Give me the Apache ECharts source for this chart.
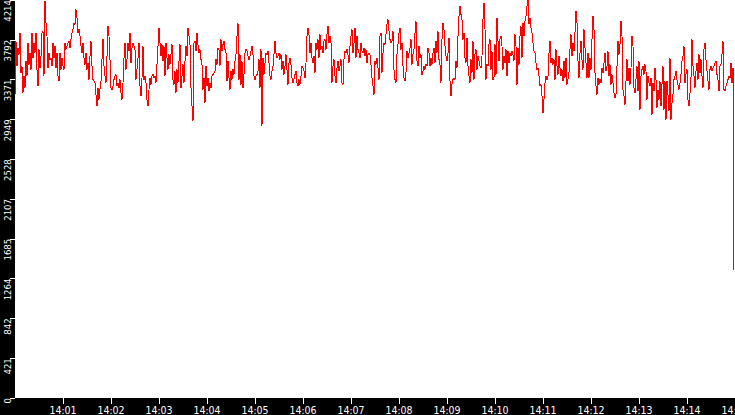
<!DOCTYPE html>
<html>
<head>
<meta charset="utf-8">
<script src="https://cdn.jsdelivr.net/npm/echarts@6/dist/echarts.min.js"></script>
<style>
  html, body { margin: 0; padding: 0; background: #000; }
  #chart { width: 735px; height: 415px; }
  #chart path { shape-rendering: crispEdges; }
</style>
</head>
<body>
<div id="chart"></div>
<script>
// ============================================
//  sampled signal, 14:00 – 14:15, one sample per 1.25 s
// ============================================
const startLabelHour = '14'
const sampleSeconds = 1.25
const spanSeconds = 900

const yTickLabels = ['0', '421', '842', '1264', '1685', '2107', '2528', '2949', '3371', '3792', '4214']
const yMax = 4214
const xTickMinutes = [1, 2, 3, 4, 5, 6, 7, 8, 9, 10, 11, 12, 13, 14, 15]

// 14:00 – 14:03
const values1 = [
  3206, 3778, 3513, 3708, 3637, 3867, 3443, 3513, 3231, 3407, 3284, 3566, 3407, 3761, 3531, 3655,
  3478, 3867, 3602, 3761, 3655, 3867, 3478, 3301, 3690, 3496, 3619, 3867, 3884, 3407, 4202, 3973,
  3831, 3496, 3655, 3584, 3602, 3513, 3761, 3602, 3725, 3496, 3655, 3407, 3354, 3655, 3478, 3602,
  3513, 3478, 3761, 3690, 3725, 3761, 3778, 3708, 3796, 3867, 3902, 3973, 3955, 4114, 4026, 3867,
  3902, 3831, 3725, 3655, 3761, 3602, 3531, 3655, 3478, 3549, 3372, 3619, 3778, 3513, 3372, 3354,
  3337, 3213, 3089, 3284, 3160, 3266, 3354, 3584, 3803, 3513, 3407, 3337, 3619, 3937, 3831, 3584,
  3284, 3266, 3301, 3372, 3407, 3425, 3301, 3337, 3284, 3372, 3231, 3160, 3337, 3602, 3761, 3478,
  3584, 3761, 3672, 3867, 3549, 3708, 3761, 3725
]
const values2 = [
  3690, 3372, 3478, 3602, 3761, 3301, 3195, 3390, 3725, 3372, 3407, 3337, 3160, 3089, 3266, 3390,
  3319, 3407, 3425, 3390, 3407, 3337, 3531, 3725, 3920, 3761, 3619, 3743, 3566, 3725, 3407, 3761,
  3602, 3478, 3637, 3531, 3637, 3743, 3372, 3319, 3460, 3231, 3478, 3337, 3566, 3743, 3284, 3407,
  3531, 3337, 3566, 3725, 3619, 3920, 3831, 3743, 3284, 3089, 2930, 3761, 3778, 3672, 3867, 3743,
  3655, 3690, 3584, 3531, 3266, 3390, 3125, 3513, 3301, 3390, 3248, 3337, 3284, 3407, 3425, 3443,
  3460, 3584, 3531, 3708, 3690, 3513, 3796, 3672, 3743, 3778, 3690, 3655, 3354, 3566, 3390, 3266,
  3460, 3372, 3478, 3425, 3566, 3637, 3831, 3973, 3372, 3637, 3319, 3566, 3284, 3425, 3655, 3690,
  3672, 3619, 3584, 3619, 3672, 3725, 3637, 3407
]
// 14:05 – 14:08
const values3 = [
  3372, 3407, 3425, 3460, 3584, 3284, 3690, 2884, 3602, 3425, 3549, 3655, 3637, 3672, 3549, 3407,
  3372, 3460, 3513, 3637, 3778, 3655, 3602, 3619, 3655, 3584, 3637, 3478, 3566, 3425, 3513, 3637,
  3478, 3319, 3549, 3602, 3531, 3390, 3337, 3372, 3425, 3460, 3337, 3301, 3372, 3319, 3407, 3513,
  3496, 3460, 3390, 3549, 3831, 3920, 3849, 3655, 3761, 3602, 3549, 3619, 3443, 3761, 3690, 3796,
  3602, 3849, 3690, 3725, 3655, 3778, 3796, 3690, 3849, 3937, 3761, 3831, 3761, 3337, 3513, 3584,
  3407, 3337, 3496, 3566, 3460, 3513, 3584, 3337, 3319, 3584, 3672, 3655, 3690, 3637, 3549, 3725,
  3831, 3902, 3655, 3761, 3920, 3602, 3831, 3690, 3655, 3602, 3761, 3672, 3655, 3708, 3619, 3690,
  3549, 3637, 3655, 3637, 3531, 3390, 3301, 3213
]
const values4 = [
  3566, 3531, 3602, 3496, 3372, 3831, 3867, 3443, 3655, 3761, 3743, 3849, 3955, 4008, 3884, 3796,
  3761, 3778, 3884, 3478, 3372, 3337, 3637, 3743, 3867, 3920, 3690, 3761, 3513, 3390, 3354, 3443,
  3672, 3602, 3655, 3708, 3796, 3531, 3637, 3690, 3867, 3990, 3566, 3513, 3725, 3602, 3637, 3425,
  3460, 3513, 3478, 3531, 3513, 3708, 3655, 3513, 3602, 3531, 3655, 3708, 3549, 3778, 3655, 3884,
  3584, 3531, 3337, 3796, 3973, 3902, 3725, 3619, 3566, 3655, 3814, 3354, 3195, 3319, 3372, 3390,
  3372, 3566, 3496, 3831, 4043, 4149, 4061, 4008, 3796, 3867, 3602, 3549, 3814, 3513, 3407, 3337,
  3584, 3443, 3778, 3372, 3637, 3690, 3478, 3619, 3566, 3513, 3496, 3619, 4008, 4185, 3902, 3372,
  3531, 3513, 3743, 3796, 3478, 3672, 3372, 3390
]
// 14:10 – 14:15
const values5 = [
  3743, 3425, 4026, 3778, 3566, 3796, 3831, 3725, 3478, 3619, 3549, 3690, 3407, 3672, 3549, 3655,
  3619, 3672, 3637, 3566, 3849, 3725, 3319, 3708, 3531, 3831, 3937, 3602, 3973, 3831, 3990, 4043,
  4149, 4214, 3955, 4026, 3920, 3867, 3761, 3672, 3655, 3549, 3478, 3496, 3407, 3301, 3319, 3195,
  3019, 3160, 3337, 3407, 3372, 3407, 3655, 3778, 3549, 3602, 3531, 3584, 3372, 3690, 3513, 3425,
  3619, 3496, 3407, 3478, 3354, 3566, 3390, 3602, 3319, 3372, 3443, 3690, 3849, 3619, 3761, 3672,
  3867, 4096, 3973, 3566, 3390, 3655, 3778, 3584, 3478, 3902, 3708, 3549, 3390, 3655, 3390, 3602,
  3478, 3796, 4043, 3902, 3443, 3301, 3213, 3390, 3319, 3372, 3337, 3496, 3443, 3549, 3655, 3460,
  3513, 3672, 3407, 3531, 3319, 3425, 3337, 3231
]
const values6 = [
  3178, 3213, 3513, 3778, 3637, 3743, 3990, 3831, 3266, 3195, 3107, 3354, 3584, 3354, 3496, 3319,
  3496, 3831, 3725, 3284, 3231, 3372, 3513, 3248, 3566, 3054, 3407, 3478, 3513, 3425, 3531, 3460,
  3160, 3407, 3337, 3301, 3390, 3001, 3337, 3248, 3496, 3372, 3072, 3266, 3160, 3354, 3089, 3319,
  3513, 3054, 3354, 2948, 3354, 3213, 3036, 3602, 2948, 3125, 3213, 3372, 3407, 3460, 3372, 3319,
  3266, 3337, 3425, 3566, 3619, 3725, 3337, 3425, 3478, 3160, 3089, 3231, 3390, 3796, 3513, 3407,
  3284, 3460, 3549, 3372, 3637, 3443, 3584, 3407, 3284, 3690, 3761, 3584, 3460, 3354, 3266, 3478,
  3513, 3460, 3496, 3513, 3549, 3566, 3425, 3372, 3248, 3513, 3531, 3637, 3778, 3266, 3248, 3301,
  3337, 3372, 3407, 3390, 3549, 3337, 3496, 1357
]

const values = [].concat(values1, values2, values3, values4, values5, values6)
const points = values.map((v, i) => [i * sampleSeconds, v])

const chart = echarts.init(document.getElementById('chart'), null, { renderer: 'svg' })

chart.setOption({
  animation: false,
  backgroundColor: '#000',
  grid: {
    left: 15, right: 0, top: 0, bottom: 17,
    outerBoundsMode: 'none',
    containLabel: false,
    show: true, backgroundColor: '#fff', borderWidth: 0
  },
  xAxis: {
    type: 'value',
    min: 0,
    max: spanSeconds,
    interval: 60,
    axisLine: { show: false },
    splitLine: { show: false },
    axisTick: {
      length: 6,
      lineStyle: { color: '#fff' },
      customValues: xTickMinutes.map(m => m * 60)
    },
    axisLabel: {
      customValues: xTickMinutes.map(m => m * 60),
      showMaxLabel: true,
      hideOverlap: false,
      margin: 7,
      lineHeight: 10,
      color: '#fff',
      fontFamily: 'DejaVu Sans Condensed',
      fontSize: 10.5,
      formatter: v => startLabelHour + ':' + String(Math.round(v / 60)).padStart(2, '0')
    }
  },
  yAxis: {
    type: 'value',
    min: 0,
    max: yMax,
    interval: yMax / 10,
    axisLine: { show: false },
    splitLine: { show: false },
    axisTick: { length: 5, lineStyle: { color: '#fff' } },
    axisLabel: {
      rotate: 90,
      align: 'right',
      verticalAlign: 'bottom',
      margin: 3,
      color: '#fff',
      fontFamily: 'DejaVu Sans Condensed',
      fontSize: 9.5,
      showMinLabel: true,
      showMaxLabel: true,
      formatter: v => yTickLabels[Math.round(v / (yMax / 10))]
    }
  },
  series: [{
    type: 'line',
    data: points,
    showSymbol: false,
    symbol: 'none',
    lineStyle: { color: '#ff0000', width: 1 },
    silent: true
  }]
})
</script>
</body>
</html>
